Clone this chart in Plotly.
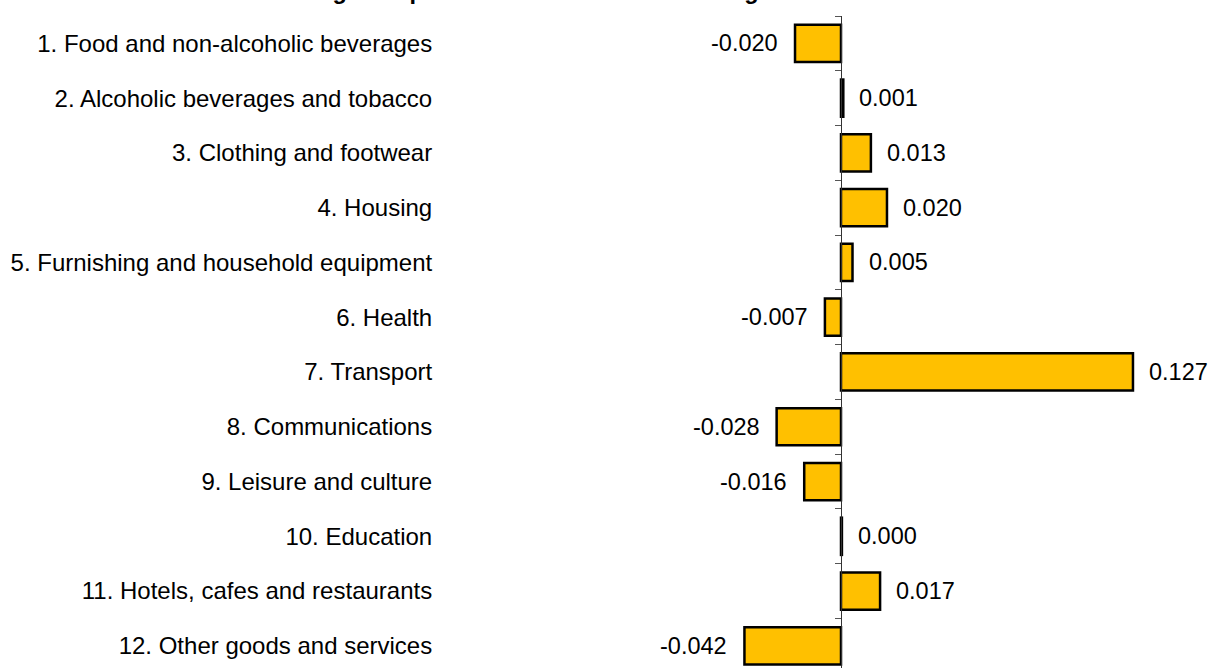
import plotly.graph_objects as go

# Expenditure groups and their contributions (percentage points)
groups = [
    "1. Food and non-alcoholic beverages",
    "2. Alcoholic beverages and tobacco",
    "3. Clothing and footwear",
    "4. Housing",
    "5. Furnishing and household equipment",
    "6. Health",
    "7. Transport",
    "8. Communications",
    "9. Leisure and culture",
    "10. Education",
    "11. Hotels, cafes and restaurants",
    "12. Other goods and services",
]
contributions = [-0.020, 0.001, 0.013, 0.020, 0.005, -0.007, 0.127,
                 -0.028, -0.016, 0.0004, 0.017, -0.042]

title_text = "Contributing Groups to the Annual Rate of Change"

FONT = "Liberation Sans, Arial, sans-serif"
W, H = 1213, 668
ML, MR, MT, MB = 440, 0, 16, 0
PX_PER_UNIT = 2299.0
ZERO_PX = 841.0

x_lo = -(ZERO_PX - ML) / PX_PER_UNIT
x_hi = (W - MR - ZERO_PX) / PX_PER_UNIT
axis_pos = (ZERO_PX - ML) / (W - ML - MR)

fig = go.Figure()
fig.add_trace(go.Bar(
    x=contributions,
    y=groups,
    orientation="h",
    marker=dict(color="#FFC000", line=dict(color="black", width=2.5)),
    hoverinfo="x+y",
))

# value labels next to each bar
for g, v in zip(groups, contributions):
    fig.add_annotation(
        x=v, y=g, xref="x", yref="y",
        text=f"{v:.3f}",
        showarrow=False,
        xanchor="left" if v >= 0 else "right",
        xshift=14 if v >= 0 else -15,
        font=dict(family=FONT, size=23.5, color="black"),
    )

# title (sits at the very top edge of the page)
fig.add_annotation(
    xref="paper", x=(489 - ML) / (W - ML - MR),
    yref="paper", y=1.038,
    xanchor="center", yanchor="middle",
    text=f"<b>{title_text}</b>", showarrow=False,
    font=dict(family=FONT, size=23.5, color="black"),
)

fig.update_layout(
    width=W, height=H,
    margin=dict(l=ML, r=MR, t=MT, b=MB, autoexpand=False),
    paper_bgcolor="white", plot_bgcolor="white",
    bargap=0.32,
    showlegend=False,
    font=dict(family=FONT, size=24, color="black"),
    xaxis=dict(
        range=[x_lo, x_hi],
        showgrid=False, zeroline=False, showline=False,
        showticklabels=False, ticks="",
    ),
    yaxis=dict(
        type="category",
        categoryorder="array", categoryarray=groups,
        range=[len(groups) - 1 + 0.405, -0.5],
        anchor="free", position=axis_pos,
        showline=True, linecolor="#333333", linewidth=1,
        ticks="outside", ticklen=6, tickcolor="#555555",
        tickson="boundaries",
        showgrid=False, zeroline=False,
        ticklabelstandoff=404,
        tickfont=dict(family=FONT, size=24, color="black"),
        automargin=False,
    ),
)

fig.write_html("out.html")
